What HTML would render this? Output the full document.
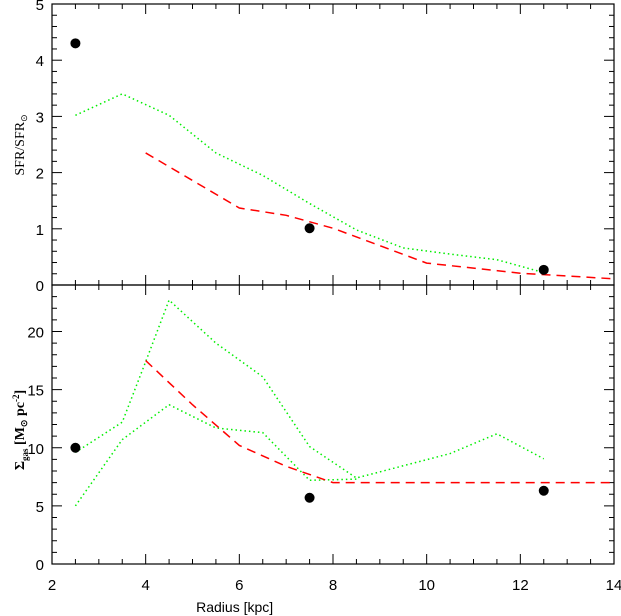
<!DOCTYPE html>
<html><head><meta charset="utf-8"><style>
body{margin:0;background:#fff;}
svg{display:block;font-family:"Liberation Sans",sans-serif;}
</style></head><body>
<svg id="chart" width="621" height="616" xmlns="http://www.w3.org/2000/svg"></svg>
<script>
const xTicks=[2,4,6,8,10,12,14];
const topYTicks=[0,1,2,3,4,5];
const botYTicks=[0,5,10,15,20];
const sfrGreenX=[2.5,3.5,4.5,5.5,6.5,7.5,8.5,9.5,10.5,11.5,12.5];
const sfrGreenY=[3.02,3.4,3.02,2.35,1.95,1.45,0.98,0.66,0.55,0.45,0.22];
const sfrRedX=[4,5,6,7,8,9,10,11,12,13,14];
const sfrRedY=[2.35,1.86,1.37,1.24,1.01,0.7,0.39,0.3,0.21,0.16,0.11];
const sfrObsX=[2.5,7.5,12.5];
const sfrObsY=[4.3,1.01,0.27];
const gasUpX=[2.5,3.5,4,4.5,5.5,6.5,7.5,8.5,10.5,11.5,12.5];
const gasUpY=[9.6,12.2,17.4,22.7,19.0,16.1,10.1,7.4,9.5,11.2,9.05];
const gasLowX=[2.5,3.5,4.5,5.5,6.5,7.5,8.5];
const gasLowY=[5.0,10.7,13.7,11.7,11.3,7.2,7.3];
const gasRedX=[4,5,6,7,8,9,10,11,12,13,14];
const gasRedY=[17.5,13.7,10.2,8.4,7.0,7.0,7.0,7.0,7.0,7.0,7.0];
const gasObsX=[2.5,7.5,12.5];
const gasObsY=[10.0,5.7,6.3];

const L=52,R=614,T1=4,B1=285,T2=285,B2=564;
const sx=v=>L+(v-2)/12*(R-L);
const sy1=v=>B1-v/5*(B1-T1);
const sy2=v=>B2-v/24*(B2-T2);
const svg=document.getElementById('chart');
const NS='http://www.w3.org/2000/svg';
function mk(tag,attrs,parent){const e=document.createElementNS(NS,tag);for(const k in attrs)e.setAttribute(k,attrs[k]);(parent||svg).appendChild(e);return e;}
function line(x1,y1,x2,y2,g){return mk('line',{x1,y1,x2,y2,stroke:'#000','stroke-width':1},g);}

function panel(name,T,B,sy,ymax,minorStep,yTicks){
  const g=mk('g',{});
  
  
  mk('rect',{x:L,y:T,width:R-L,height:B-T,fill:'none',stroke:'#000','stroke-width':1.2},g);
  for(let v=2;v<=14.001;v+=0.5){
    const maj=Math.abs(v-Math.round(v/2)*2)<1e-6;const len=maj?10:5;const x=sx(v);
    line(x,B,x,B-len,g);line(x,T,x,T+len,g);
  }
  for(let v=0;v<=ymax+1e-6;v+=minorStep){
    const maj=yTicks.some(t=>Math.abs(t-v)<1e-6);const len=maj?10:5;const y=sy(v);
    line(L,y,L+len,y,g);line(R,y,R-len,y,g);
  }
  yTicks.forEach(t=>{
    const tx=mk('text',{x:L-8,y:sy(t)+6,'text-anchor':'end','font-size':15},g);
    
    
    tx.textContent=t;
  });
}
panel('sfr',T1,B1,sy1,5,0.2,topYTicks);
panel('gas',T2,B2,sy2,24,1,botYTicks);
xTicks.forEach(t=>{
  const tx=mk('text',{x:sx(t),y:590,'text-anchor':'middle','font-size':15});
  
  
  tx.textContent=t;
});
const xt=mk('text',{x:sx(5.9),y:612,'text-anchor':'middle','font-size':14});


xt.textContent='Radius [kpc]';
const yt1=mk('text',{x:0,y:0,transform:'translate(24,145) rotate(-90)','text-anchor':'middle','font-size':14,'font-family':'Liberation Serif,serif'});


yt1.innerHTML='SFR/SFR<tspan font-size="9" dy="3">⊙</tspan>';
const yt2=mk('text',{x:0,y:0,transform:'translate(24,430) rotate(-90)','text-anchor':'middle','font-size':14,'font-family':'Liberation Serif,serif','font-weight':'bold'});


yt2.innerHTML='Σ<tspan font-size="9" dy="4">gas</tspan><tspan dy="-4"> [M</tspan><tspan font-size="9" dy="3">⊙</tspan><tspan dy="-3"> pc</tspan><tspan font-size="9" dy="-5">-2</tspan><tspan dy="5">]</tspan>';

function series(xs,ys,sy,color,dash,name){
  const p=mk('polyline',{points:xs.map((x,i)=>sx(x)+','+sy(ys[i])).join(' '),fill:'none',stroke:color,'stroke-width':1.5,'stroke-dasharray':dash});
  
  
}
function pts(xs,ys,sy,name){
  xs.forEach((x,i)=>{const c=mk('circle',{cx:sx(x),cy:sy(ys[i]),r:5,fill:'#000'});
    
    });
}
series(sfrGreenX,sfrGreenY,sy1,'#00ee00','1.5 3','sfr-model-green');
series(sfrRedX,sfrRedY,sy1,'#ff0000','9 6','sfr-model-red');
pts(sfrObsX,sfrObsY,sy1,'sfr-observed-point');
series(gasUpX,gasUpY,sy2,'#00ee00','1.5 3','gas-model-green-upper');
series(gasLowX,gasLowY,sy2,'#00ee00','1.5 3','gas-model-green-lower');
series(gasRedX,gasRedY,sy2,'#ff0000','9 6','gas-model-red');
pts(gasObsX,gasObsY,sy2,'gas-observed-point');
</script>
</body></html>
